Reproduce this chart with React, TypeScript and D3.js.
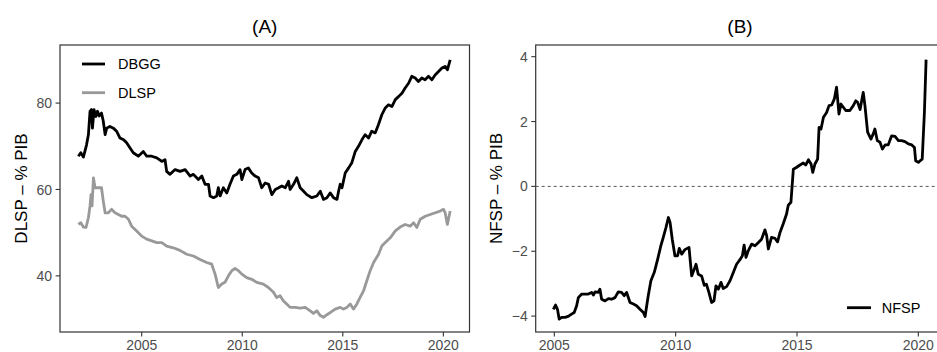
import React from "react";
import * as d3 from "d3";

type P = [number, number];

// DBGG (% PIB), panel A, black
const dbgg: P[] = [
  [2001.85, 67.7], [2001.97, 68.5], [2002.1, 67.5], [2002.26, 70.4], [2002.35, 72.7], [2002.43, 78.1],
  [2002.5, 78.5], [2002.55, 74.2], [2002.63, 78.5], [2002.72, 76.9], [2002.8, 78.1], [2002.89, 77.0],
  [2003.0, 77.7], [2003.09, 75.8], [2003.18, 72.7], [2003.26, 74.2], [2003.42, 74.6], [2003.59, 74.2],
  [2003.75, 73.5], [2003.92, 71.9], [2004.1, 71.5], [2004.25, 70.8], [2004.42, 69.6], [2004.58, 68.5],
  [2004.83, 67.7], [2005.08, 68.8], [2005.25, 67.7], [2005.5, 67.7], [2005.75, 67.3], [2006.0, 66.5],
  [2006.16, 66.9], [2006.24, 64.2], [2006.41, 63.5], [2006.66, 64.6], [2006.91, 64.2], [2007.16, 64.6],
  [2007.41, 63.1], [2007.57, 63.5], [2007.82, 62.3], [2007.99, 63.1], [2008.15, 61.2], [2008.32, 61.2],
  [2008.4, 58.5], [2008.57, 58.1], [2008.73, 58.5], [2008.81, 60.4], [2008.9, 58.5], [2009.06, 60.4],
  [2009.23, 59.2], [2009.39, 61.2], [2009.56, 63.1], [2009.73, 63.5], [2009.89, 64.6], [2009.98, 62.3],
  [2010.14, 64.6], [2010.3, 65.0], [2010.47, 63.8], [2010.64, 63.1], [2010.81, 62.7], [2010.97, 60.4],
  [2011.14, 61.5], [2011.31, 61.2], [2011.47, 58.8], [2011.64, 60.0], [2011.81, 60.4], [2011.97, 60.8],
  [2012.14, 60.4], [2012.3, 61.9], [2012.38, 60.0], [2012.55, 61.2], [2012.71, 62.7], [2012.88, 60.4],
  [2013.05, 59.6], [2013.21, 58.8], [2013.46, 58.1], [2013.71, 58.5], [2013.88, 59.6], [2014.04, 57.7],
  [2014.21, 58.1], [2014.37, 59.2], [2014.54, 58.1], [2014.71, 57.7], [2014.79, 59.6], [2014.87, 61.2],
  [2014.96, 60.4], [2015.12, 63.8], [2015.29, 65.0], [2015.45, 66.2], [2015.62, 68.8], [2015.78, 70.0],
  [2015.95, 71.5], [2016.11, 72.7], [2016.28, 71.9], [2016.44, 73.5], [2016.61, 73.1], [2016.77, 75.0],
  [2016.94, 77.3], [2017.1, 78.8], [2017.27, 79.6], [2017.44, 79.2], [2017.61, 80.8], [2017.77, 81.5],
  [2017.94, 82.3], [2018.1, 83.5], [2018.27, 84.6], [2018.43, 86.2], [2018.6, 85.8], [2018.76, 85.0],
  [2018.93, 85.8], [2019.09, 85.4], [2019.26, 86.2], [2019.43, 85.4], [2019.59, 86.5], [2019.76, 87.3],
  [2019.93, 88.1], [2020.09, 88.5], [2020.2, 87.7], [2020.34, 90.0],
];

// DLSP (% PIB), panel A, grey
const dlsp: P[] = [
  [2001.85, 51.9], [2001.97, 52.3], [2002.1, 51.3], [2002.23, 51.2], [2002.35, 53.5], [2002.43, 56.2],
  [2002.48, 58.8], [2002.53, 56.2], [2002.6, 62.7], [2002.68, 60.4], [2002.85, 60.4], [2003.0, 60.4],
  [2003.09, 57.3], [2003.18, 54.6], [2003.34, 54.6], [2003.5, 55.4], [2003.67, 54.6], [2003.84, 54.2],
  [2004.0, 53.8], [2004.17, 53.8], [2004.34, 53.1], [2004.5, 51.5], [2004.75, 50.4], [2005.0, 49.2],
  [2005.25, 48.5], [2005.5, 48.1], [2005.75, 47.7], [2006.0, 47.7], [2006.24, 46.9], [2006.57, 46.5],
  [2006.9, 45.9], [2007.24, 45.0], [2007.57, 44.6], [2007.9, 43.8], [2008.23, 43.1], [2008.48, 42.7],
  [2008.65, 40.4], [2008.81, 37.3], [2008.98, 38.1], [2009.14, 38.5], [2009.31, 40.0], [2009.48, 41.2],
  [2009.64, 41.7], [2009.81, 41.2], [2009.98, 40.4], [2010.22, 39.6], [2010.47, 39.2], [2010.72, 38.5],
  [2011.05, 38.1], [2011.3, 37.3], [2011.55, 36.2], [2011.71, 35.0], [2011.88, 35.4], [2012.05, 34.2],
  [2012.21, 33.5], [2012.38, 32.7], [2012.63, 32.7], [2012.88, 32.5], [2013.13, 32.7], [2013.38, 31.9],
  [2013.54, 31.3], [2013.71, 31.9], [2013.88, 30.8], [2014.04, 30.4], [2014.21, 31.0], [2014.37, 31.5],
  [2014.62, 32.3], [2014.87, 32.7], [2015.03, 32.3], [2015.2, 32.7], [2015.37, 33.5], [2015.53, 32.3],
  [2015.7, 33.5], [2015.86, 35.0], [2016.03, 36.5], [2016.19, 38.8], [2016.36, 41.2], [2016.53, 43.1],
  [2016.78, 45.0], [2016.94, 46.9], [2017.11, 47.7], [2017.36, 48.8], [2017.61, 50.4], [2017.85, 51.3],
  [2018.1, 51.9], [2018.35, 51.5], [2018.52, 52.3], [2018.68, 51.2], [2018.85, 53.1], [2019.1, 53.8],
  [2019.35, 54.2], [2019.6, 54.6], [2019.84, 55.0], [2020.01, 55.4], [2020.09, 54.6], [2020.2, 51.9],
  [2020.34, 55.0],
];

// NFSP (% PIB), panel B
const nfsp: P[] = [
  [2004.96, -3.79], [2005.05, -3.66], [2005.13, -3.79], [2005.2, -4.09], [2005.3, -4.04], [2005.44, -4.04],
  [2005.57, -4.01], [2005.71, -3.94], [2005.82, -3.89], [2005.92, -3.68], [2005.99, -3.43], [2006.13, -3.32],
  [2006.26, -3.32], [2006.4, -3.32], [2006.54, -3.27], [2006.61, -3.35], [2006.68, -3.25], [2006.81, -3.27],
  [2006.88, -3.17], [2006.95, -3.48], [2007.09, -3.53], [2007.23, -3.46], [2007.36, -3.48], [2007.5, -3.43],
  [2007.64, -3.25], [2007.77, -3.27], [2007.88, -3.37], [2007.98, -3.27], [2008.12, -3.58], [2008.26, -3.63],
  [2008.39, -3.68], [2008.53, -3.79], [2008.67, -3.89], [2008.74, -4.01], [2008.87, -3.37], [2008.98, -2.91],
  [2009.12, -2.65], [2009.26, -2.24], [2009.39, -1.83], [2009.49, -1.57], [2009.6, -1.27], [2009.7, -0.96],
  [2009.77, -1.11], [2009.86, -1.63], [2009.97, -2.14], [2010.08, -2.14], [2010.15, -1.91], [2010.25, -2.09],
  [2010.38, -1.95], [2010.55, -1.88], [2010.66, -2.76], [2010.77, -2.55], [2010.84, -2.40], [2010.93, -2.71],
  [2011.07, -2.76], [2011.18, -3.05], [2011.27, -3.02], [2011.37, -3.27], [2011.48, -3.58], [2011.58, -3.53],
  [2011.66, -3.07], [2011.76, -3.17], [2011.87, -2.96], [2011.96, -3.15], [2012.1, -3.09], [2012.24, -2.91],
  [2012.38, -2.65], [2012.51, -2.40], [2012.65, -2.26], [2012.75, -2.14], [2012.82, -1.81], [2012.9, -2.19],
  [2012.99, -1.99], [2013.13, -1.78], [2013.27, -1.83], [2013.41, -1.73], [2013.54, -1.63], [2013.68, -1.34],
  [2013.75, -1.52], [2013.82, -1.93], [2013.95, -1.57], [2014.09, -1.60], [2014.2, -1.71], [2014.3, -1.42],
  [2014.43, -1.16], [2014.57, -0.85], [2014.64, -0.58], [2014.75, -0.49], [2014.85, 0.53], [2014.99, 0.59],
  [2015.12, 0.66], [2015.26, 0.72], [2015.36, 0.66], [2015.47, 0.82], [2015.58, 0.69], [2015.65, 0.43],
  [2015.74, 0.69], [2015.85, 0.84], [2015.91, 1.82], [2015.99, 1.77], [2016.09, 2.13], [2016.22, 2.28],
  [2016.32, 2.49], [2016.43, 2.51], [2016.54, 2.70], [2016.63, 3.06], [2016.73, 2.23], [2016.81, 2.54],
  [2016.91, 2.44], [2017.01, 2.34], [2017.18, 2.34], [2017.32, 2.49], [2017.42, 2.64], [2017.5, 2.59],
  [2017.6, 2.37], [2017.73, 2.90], [2017.8, 2.49], [2017.91, 1.67], [2018.05, 1.46], [2018.14, 1.62],
  [2018.21, 1.77], [2018.31, 1.41], [2018.42, 1.36], [2018.52, 1.15], [2018.63, 1.28], [2018.76, 1.28],
  [2018.9, 1.56], [2019.04, 1.54], [2019.18, 1.41], [2019.31, 1.41], [2019.45, 1.38], [2019.59, 1.31],
  [2019.73, 1.28], [2019.84, 1.20], [2019.89, 0.79], [2020.0, 0.74], [2020.07, 0.79], [2020.16, 0.84],
  [2020.25, 2.28], [2020.32, 3.91],
];

const xTicks = [2005, 2010, 2015, 2020];
const yTicksA = [40, 60, 80];
const yTicksB = [-4, -2, 0, 2, 4];
const seriesNamesA = ["DBGG", "DLSP"];
const seriesNamesB = ["NFSP"];
const panelTitles = ["(A)", "(B)"];
const axisTitles = ["DLSP – % PIB", "NFSP – % PIB"];

const W = 937;
const H = 352;
const FONT = "'Liberation Sans', Arial, Helvetica, sans-serif";
const TOP = 45;
const BOTTOM = 332;
const LW = 2.8;

const xA = d3.scaleLinear().domain([2000.937, 2021.3]).range([60, 469.5]);
const yA = d3.scaleLinear().domain([27.0, 93.45]).range([BOTTOM, TOP]);
const xB = d3.scaleLinear().domain([2004.233, 2021.07]).range([535.7, 944.3]);
const yB = d3.scaleLinear().domain([-4.49, 4.36]).range([BOTTOM, TOP]);

const fmt = d3.format("d");

function Axes({ x, y, yTicks, title, yTitle, yTitleX }: any) {
  const [x0, x1] = x.range();
  return (
    <g>
      <text x={(x0 + x1) / 2} y={33} textAnchor="middle" fontSize={19} fill="#000">{title}</text>
      <rect x={x0} y={TOP} width={x1 - x0} height={BOTTOM - TOP} fill="none" stroke="#333" strokeWidth={1.2} />
      {xTicks.map((t) => (
        <g key={"x" + t}>
          <line x1={x(t)} x2={x(t)} y1={BOTTOM} y2={BOTTOM + 4.4} stroke="#333" strokeWidth={1.1} />
          <text x={x(t)} y={349.5} textAnchor="middle" fontSize={14} fill="#4d4d4d">{fmt(t)}</text>
        </g>
      ))}
      {yTicks.map((t: number) => (
        <g key={"y" + t}>
          <line x1={x0 - 4.4} x2={x0} y1={y(t)} y2={y(t)} stroke="#333" strokeWidth={1.1} />
          <text x={x0 - 8} y={y(t)} dy="0.36em" textAnchor="end" fontSize={14} fill="#4d4d4d">{fmt(t).replace("-", "\u2212")}</text>
        </g>
      ))}
      <text transform={`translate(${yTitleX},${(TOP + BOTTOM) / 2}) rotate(-90)`} textAnchor="middle" fontSize={17} fill="#000">{yTitle}</text>
    </g>
  );
}

export default function App() {
  const lineA = d3.line<P>().x((d) => xA(d[0])).y((d) => yA(d[1]));
  const lineB = d3.line<P>().x((d) => xB(d[0])).y((d) => yB(d[1]));
  const colorsA = ["#000000", "#999999"];
  return (
    <svg width={W} height={H} style={{ position: "absolute", left: 0, top: 0, background: "#fff" }} fontFamily={FONT}>
      <rect x={0} y={0} width={W} height={H} fill="#fff" />
      {/* Panel A */}
      <Axes x={xA} y={yA} yTicks={yTicksA} title={panelTitles[0]} yTitle={axisTitles[0]} yTitleX={26.5} />
      <path d={lineA(dlsp) || ""} fill="none" stroke={colorsA[1]} strokeWidth={LW} strokeLinejoin="round" />
      <path d={lineA(dbgg) || ""} fill="none" stroke={colorsA[0]} strokeWidth={LW} strokeLinejoin="round" />
      {seriesNamesA.map((n, i) => (
        <g key={n} transform={`translate(0,${64 + i * 28.7})`}>
          <line x1={82} x2={105} y1={0} y2={0} stroke={colorsA[i]} strokeWidth={LW} />
          <text x={118} y={0} dy="0.36em" fontSize={14.5} fill="#000">{n}</text>
        </g>
      ))}
      {/* Panel B */}
      <Axes x={xB} y={yB} yTicks={yTicksB} title={panelTitles[1]} yTitle={axisTitles[1]} yTitleX={501.5} />
      <line x1={535.7} x2={944.3} y1={yB(0)} y2={yB(0)} stroke="#555" strokeWidth={1} strokeDasharray="3,3" />
      <path d={lineB(nfsp) || ""} fill="none" stroke="#000" strokeWidth={LW} strokeLinejoin="round" />
      {seriesNamesB.map((n) => (
        <g key={n} transform={`translate(0,307.7)`}>
          <line x1={847} x2={871} y1={0} y2={0} stroke="#000" strokeWidth={LW} />
          <text x={881.7} y={0} dy="0.36em" fontSize={14.5} fill="#000">{n}</text>
        </g>
      ))}
    </svg>
  );
}
